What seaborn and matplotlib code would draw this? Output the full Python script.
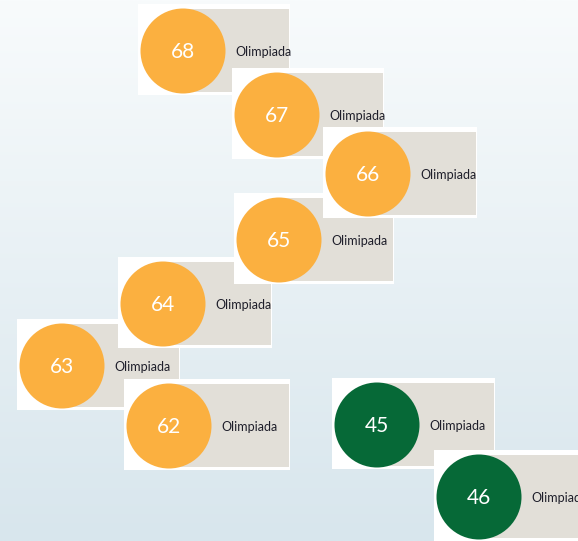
import numpy as np
import pandas as pd
import matplotlib.pyplot as plt
from matplotlib.patches import Rectangle
import seaborn as sns

# Data: number on each badge, its caption and its group (colour)
numbers = [68, 67, 66, 65, 64, 63, 62, 45, 46]
captions = ["Olimpiada", "Olimpiada", "Olimpiada", "Olimipada", "Olimpiada",
            "Olimpiada", "Olimpiada", "Olimpiada", "Olimpiada"]
groups = ["grupo 1"] * 7 + ["grupo 2"] * 2

# Layout (pixels, y downwards): badge centres, card right edges, stacking order
center_x = [183, 277, 368, 279, 163, 62, 169, 377, 479]
center_y = [51, 115, 174, 240, 304, 366, 426, 425, 497]
card_right = [290, 384, 477, 394, 272, 180, 290, 495, 600]
stack_order = [0, 1, 5, 6, 4, 3, 2, 7, 8]

palette = {"grupo 1": "#fbb040", "grupo 2": "#066937"}
W, H = 578, 541

df = pd.DataFrame({"numero": numbers, "texto": captions, "grupo": groups,
                   "cx": center_x, "cy": center_y, "right": card_right})

fig = plt.figure(figsize=(W / 100, H / 100), dpi=100)
ax = fig.add_axes([0, 0, 1, 1])

# background gradient
top = np.array([248, 251, 252]) / 255
bottom = np.array([216, 230, 237]) / 255
t = np.linspace(0, 1, 256)[:, None, None]
grad = top * (1 - t) + bottom * t
ax.imshow(grad, extent=[0, W, H, 0], aspect="auto", zorder=0)

# cards: white frame + grey strip starting at the badge centre
for k, i in enumerate(stack_order):
    r = df.iloc[i]
    left = r.cx - 45
    ax.add_patch(Rectangle((left, r.cy - 47), r.right - left, 91,
                           facecolor="white", edgecolor="none", zorder=2 + 2 * k))
    ax.add_patch(Rectangle((r.cx, r.cy - 42), r.right - 1 - r.cx, 83,
                           facecolor="#e2dfd8", edgecolor="none", zorder=3 + 2 * k))

# badges
diam_pt = 85 * 72 / 100
sns.scatterplot(data=df, x="cx", y="cy", hue="grupo", palette=palette,
                s=diam_pt ** 2, linewidth=0, legend=False, ax=ax, zorder=50)

for _, r in df.iterrows():
    ax.text(r.cx, r.cy + 1, str(r.numero), color="white", fontsize=15,
            family="Lato", ha="center", va="center", zorder=60)
    ax.text(r.cx + 52, r.cy + 1, r.texto, color="#1e1e2a", fontsize=9,
            family="Lato", ha="left", va="center", zorder=60)

ax.set_xlim(0, W)
ax.set_ylim(H, 0)
ax.axis("off")

plt.savefig("out.png", dpi=100)
